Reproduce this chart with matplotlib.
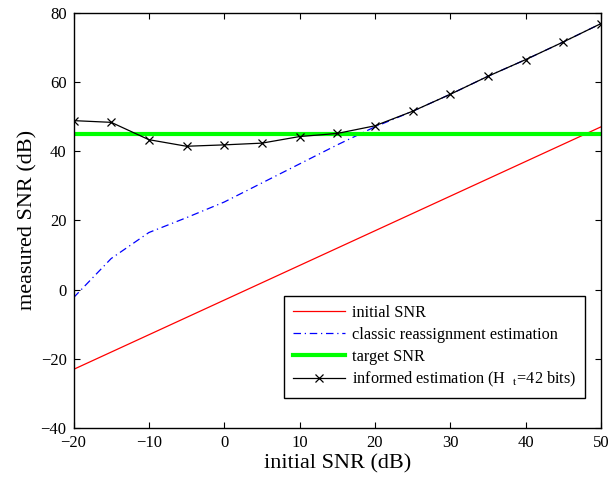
import numpy as np
import matplotlib.pyplot as plt

plt.rcParams['font.family'] = ['Liberation Serif', 'DejaVu Serif']
plt.rcParams['mathtext.fontset'] = 'stix'

# donnees
snr_in = [-20, -15, -10, -5, 0, 5, 10, 15, 20, 25, 30, 35, 40, 45, 50]
initial = [-23, -18, -13, -8, -3, 2, 7, 12, 17, 22, 27, 32, 37, 42, 47]
classic = [-2.3, 9.0, 16.5, 20.8, 25.3, 30.8, 36.3, 41.8, 47.0, 51.5, 56.4, 61.6, 66.4, 71.5, 76.8]
informed = [48.8, 48.3, 43.3, 41.4, 41.8, 42.3, 44.2, 45.1, 47.3, 51.5, 56.4, 61.6, 66.4, 71.5, 76.8]
target = 45

fig = plt.figure(figsize=(6.11, 4.79), dpi=100)
ax = fig.add_axes([0.1203, 0.1058, 0.8633, 0.8681])

ax.plot(snr_in, initial, color=(1, 0, 0), lw=0.9, label="initial SNR")
ax.plot(snr_in, classic, color=(0, 0, 1), lw=0.9, linestyle=(0, (6, 3, 1, 3)),
        label="classic reassignment estimation")
ax.plot([snr_in[0], snr_in[-1]], [target, target], color=(0, 1, 0), lw=3,
        label="target SNR")
ax.plot(snr_in, informed, color='k', lw=0.9, marker='x', ms=6, mew=0.9,
        label=r"informed estimation (H  $_{\rm t}$=42 bits)")

ax.set_xlim(-20, 50)
ax.set_ylim(-40, 80)
ax.set_xticks(np.arange(-20, 51, 10))
ax.set_yticks(np.arange(-40, 81, 20))
ax.set_xticklabels([str(t).replace('-', '\u2212') for t in range(-20, 51, 10)])
ax.set_yticklabels([str(t).replace('-', '\u2212') for t in range(-40, 81, 20)])
ax.tick_params(direction='in', top=True, right=True, length=4, width=0.8,
               labelsize=12, pad=5)
for s in ax.spines.values():
    s.set_linewidth(1.0)

ax.set_xlabel("initial SNR (dB)", fontsize=16, labelpad=2)
ax.set_ylabel("measured SNR (dB)", fontsize=16, labelpad=2)

leg = ax.legend(loc='lower right', bbox_to_anchor=(0.970, 0.072), fontsize=11.7,
                fancybox=False, edgecolor='k', framealpha=1, handlelength=3.2,
                numpoints=1, borderpad=0.55, labelspacing=0.35, handletextpad=0.4,
                borderaxespad=0)
leg.get_frame().set_linewidth(1.0)

plt.savefig("out.png", dpi=100)
